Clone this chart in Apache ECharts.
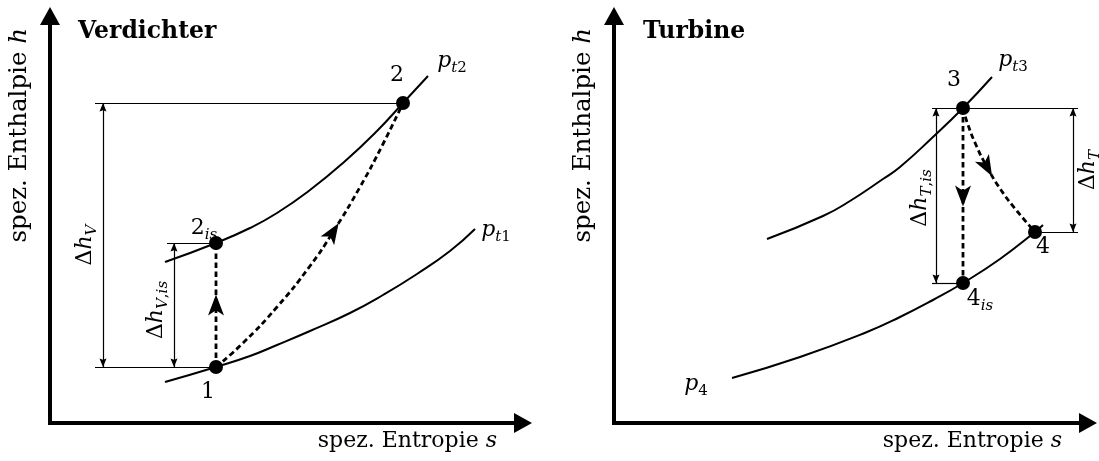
<!DOCTYPE html>
<html><head><meta charset="utf-8">
<script src="https://cdn.jsdelivr.net/npm/echarts@6/dist/echarts.min.js"></script>
<style>html,body{margin:0;padding:0;background:#fff}#c{width:1099px;height:461px}</style>
</head><body><div id="c"></div>
<script>
// ---------------- DATA (entropy s, enthalpy h in diagram units) ----------------
// Verdichter (compressor)
const compIsobarPt1 = [[115,41],[166,56],[200,67],[227,78],[260,92],[300,110],[333,128],[367,149],[400,172],[425,194]];
const compIsobarPt2 = [[115,161],[166,180],[200,195],[227,210],[260,233],[293,260],[327,292],[353,320],[378,347]];
const compProcess   = [[166,56],[193,80],[227,116],[260,157],[283,191],[310,236],[333,279],[353,320]];
const compIsentrope = [[166,56],[166,118],[166,180]];
const compStates    = [[166,56],[166,180],[353,320]];
const compStateLabels  = ['{n|1}', '{n|2}{si|is}', '{n|2}'];
const compIsobarLabels = ['{i|p}{si|t}{sr|1}', '{i|p}{si|t}{sr|2}'];
const compGuides = [[45,353,320],[45,166,56],[117,166,180]];   // [s from, s to, h]
const compDims   = [[53,56,320],[124,56,180]];                 // [s, h from, h to]
const compDimLabels = ['{r|Δ}{i|h}{si|V}', '{r|Δ}{i|h}{si|V}{sr|,}{si|is}'];

// Turbine
const turbIsobarPt3 = [[153,184],[209,207],[236,222],[269,244],[286,256],[319,286],[349,315],[378,346]];
const turbIsobarP4  = [[118,45],[186,66],[253,91],[286,106],[319,123],[349,140],[386,164],[421,191],[429,198]];
const turbProcess   = [[349,315],[353,301],[362,278],[373,256],[387,233],[403,212],[421,191]];
const turbIsentrope = [[349,315],[349,227],[349,140]];
const turbStates    = [[349,315],[349,140],[421,191]];
const turbStateLabels  = ['{n|3}', '{n|4}{si|is}', '{n|4}'];
const turbIsobarLabels = ['{i|p}{si|t}{sr|3}', '{i|p}{sr|4}'];
const turbGuides = [[318,464,315],[318,349,140],[421,464,191]];
const turbDims   = [[322,140,315],[459,191,315]];
const turbDimLabels = ['{r|Δ}{i|h}{si|T}{sr|,}{si|is}', '{r|Δ}{i|h}{si|T}'];

const panelTitles = ['Verdichter', 'Turbine'];
const axisXName = '{r|spez. Entropie }{i|s}';
const axisYName = '{r|spez. Enthalpie }{i|h}';

// ---------------- STYLE ----------------
const FONT = 'DejaVu Serif';
const RICH = {
  n:  {fontFamily:FONT, fontSize:22, lineHeight:30, color:'#000', verticalAlign:'middle'},
  r:  {fontFamily:FONT, fontSize:22, lineHeight:30, color:'#000', verticalAlign:'middle'},
  i:  {fontFamily:FONT, fontSize:22, lineHeight:30, color:'#000', fontStyle:'italic', verticalAlign:'middle'},
  si: {fontFamily:FONT, fontSize:15, lineHeight:15, color:'#000', fontStyle:'italic', verticalAlign:'bottom'},
  sr: {fontFamily:FONT, fontSize:15, lineHeight:15, color:'#000', verticalAlign:'bottom'}
};
const AXRICH = {
  r: {fontFamily:FONT, fontSize:22, lineHeight:24, color:'#000'},
  i: {fontFamily:FONT, fontSize:22, lineHeight:24, color:'#000', fontStyle:'italic'}
};
const AYRICH = {
  r: {fontFamily:FONT, fontSize:24.5, lineHeight:26, color:'#000'},
  i: {fontFamily:FONT, fontSize:24.5, lineHeight:26, color:'#000', fontStyle:'italic'}
};
const STEALTH = 'path://M0,0 L8,20 L0,15 L-8,20 Z';
const DIMTIP  = 'path://M0,0 L3.5,10 L0,8.5 L-3.5,10 Z M0,-10';

const panels = [
  {
    isobars: [compIsobarPt1, compIsobarPt2], isobarLabels: compIsobarLabels,
    isobarAnchorStart: [false, false], isobarLabelOffset: [[21,1],[24,-15]],
    process: compProcess, processArrow: 4, isentrope: compIsentrope, isentropeArrow: 1,
    states: compStates, stateLabels: compStateLabels, stateLabelOffset: [[-8,25],[-12,-15],[-6,-28]],
    guides: compGuides, dims: compDims, dimLabels: compDimLabels,
    dimLabelPos: ['middle','middle'], dimLabelDist: [3,3], dimLabelPad: [[0,20,0,0],[0,10,0,0]]
  },
  {
    isobars: [turbIsobarPt3, turbIsobarP4], isobarLabels: turbIsobarLabels,
    isobarAnchorStart: [false, true], isobarLabelOffset: [[21,-17],[-36,6]],
    process: turbProcess, processArrow: 3, isentrope: turbIsentrope, isentropeArrow: 1,
    states: turbStates, stateLabels: turbStateLabels, stateLabelOffset: [[-9,-28],[17,16],[8,15]],
    guides: turbGuides, dims: turbDims, dimLabels: turbDimLabels,
    dimLabelPos: ['middle','insideMiddleBottom'], dimLabelDist: [1,0], dimLabelPad: [[0,5,0,0],[0,0,0,0]]
  }
];

function arrowAngle(pts, k) {
  const a = pts[Math.max(k-1,0)], b = pts[Math.min(k+1, pts.length-1)];
  return Math.atan2(-(b[0]-a[0]), b[1]-a[1]) * 180 / Math.PI;
}

const series = [];
panels.forEach((P, g) => {
  const base = {xAxisIndex:g, yAxisIndex:g, animation:false, silent:true};
  // isobars
  P.isobars.forEach((curve, i) => {
    const anchor = P.isobarAnchorStart[i] ? curve[0] : curve[curve.length-1];
    const off = P.isobarLabelOffset[i];
    series.push(Object.assign({}, base, {
      type:'line', data:curve, smooth:0.5, symbol:'none', z:2,
      lineStyle:{color:'#000', width:2},
      markPoint:{silent:true, animation:false, symbol:'circle', symbolSize:0,
        itemStyle:{color:'rgba(0,0,0,0)'},
        label:{show:true, formatter:P.isobarLabels[i], position:off, align:'center', verticalAlign:'middle', color:'#000', rich:RICH},
        data:[{coord:anchor}]}
    }));
  });
  // process paths (dashed)
  [P.process, P.isentrope].forEach((curve, i) => {
    series.push(Object.assign({}, base, {
      type:'line', data:curve, smooth: i === 0 ? 0.5 : false, symbol:'none', z:3,
      lineStyle:{color:'#000', width:2.8, type:[5.5,3.5]}
    }));
  });
  // arrowheads on process paths
  series.push(Object.assign({}, base, {
    type:'scatter', symbol:STEALTH, symbolSize:[16,21], z:4,
    itemStyle:{color:'#000', opacity:1},
    data:[[P.process, P.processArrow],[P.isentrope, P.isentropeArrow]].map(([c,k]) => ({value:c[k], symbolRotate:arrowAngle(c,k)}))
  }));
  // guide lines
  series.push(Object.assign({}, base, {
    type:'line', data:[],
    markLine:{silent:true, animation:false, symbol:['none','none'], label:{show:false},
      lineStyle:{color:'#000', width:1.2, type:'solid'},
      data:P.guides.map(d => [{coord:[d[0],d[2]]},{coord:[d[1],d[2]]}])}
  }));
  // dimension arrows with labels
  series.push(Object.assign({}, base, {
    type:'line', data:[],
    markLine:{silent:true, animation:false, symbol:[DIMTIP, DIMTIP], symbolSize:[7,17],
      lineStyle:{color:'#000', width:1.2, type:'solid'},
      data:P.dims.map((d,i) => [
        {coord:[d[0],d[1]], label:{show:true, formatter:P.dimLabels[i], position:P.dimLabelPos[i], distance:P.dimLabelDist[i], padding:P.dimLabelPad[i], color:'#000', rich:RICH}},
        {coord:[d[0],d[2]]}
      ])}
  }));
  // states
  series.push(Object.assign({}, base, {
    type:'scatter', symbol:'circle', symbolSize:14, z:5,
    itemStyle:{color:'#000', opacity:1},
    data:P.states.map((p,i) => ({value:p, label:{show:true, formatter:P.stateLabels[i],
      position:[P.stateLabelOffset[i][0]+7, P.stateLabelOffset[i][1]+7], align:'center', verticalAlign:'middle',
      color:'#000', textBorderWidth:0, opacity:1, rich:RICH}}))
  }));
});

function axisPair(g, maxS, maxH) {
  const line = {show:true, symbol:['none','triangle'], symbolSize:[20,18], lineStyle:{color:'#000', width:4, cap:'square'}};
  return {
    x: {gridIndex:g, type:'value', min:0, max:maxS, axisLine:line, axisTick:{show:false}, axisLabel:{show:false}, splitLine:{show:false},
        name:axisXName, nameLocation:'end', nameGap:-26,
        nameTextStyle:{align:'right', verticalAlign:'top', padding:[6,0,0,0], rich:AXRICH}},
    y: {gridIndex:g, type:'value', min:0, max:maxH, axisLine:line, axisTick:{show:false}, axisLabel:{show:false}, splitLine:{show:false},
        name:axisYName, nameLocation:'end', nameGap:-12, nameRotate:90,
        nameTextStyle:{align:'right', verticalAlign:'bottom', padding:[0,0,17,0], rich:AYRICH}}
  };
}
const a0 = axisPair(0, 473, 407), a1 = axisPair(1, 474, 407);

const chart = echarts.init(document.getElementById('c'), null, {renderer:'canvas'});
chart.setOption({
  animation:false,
  backgroundColor:'#fff',
  title: panelTitles.map((t,i) => ({text:t, left:[78,643][i], top:20, padding:0,
    textStyle:{fontFamily:FONT, fontWeight:'bold', fontSize:23.5, color:'#000'}})),
  grid:[
    {left:50, top:16, width:473, height:407, outerBoundsMode:'none'},
    {left:614, top:16, width:474, height:407, outerBoundsMode:'none'}
  ],
  xAxis:[a0.x, a1.x],
  yAxis:[a0.y, a1.y],
  series: series
});
</script></body></html>
